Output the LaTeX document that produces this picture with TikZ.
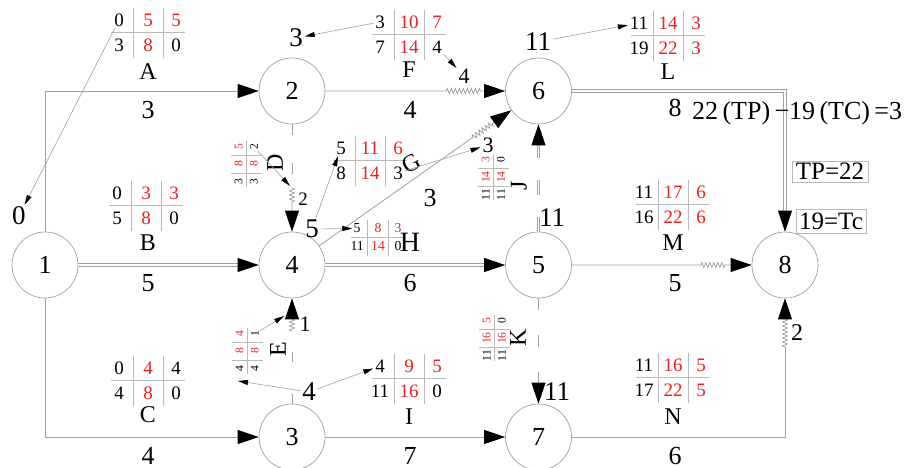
\documentclass[tikz,border=0pt]{standalone}
\usepackage{fontspec}
\setmainfont{Liberation Serif}
\usetikzlibrary{arrows.meta,decorations.pathmorphing,calc}
\definecolor{ln}{RGB}{160,160,160}
\definecolor{gl}{RGB}{185,185,185}
\definecolor{rd}{RGB}{240,30,30}
\newcommand\rd[1]{\textcolor{rd}{#1}}
\newcommand\fs[1]{\fontsize{#1}{#1}\selectfont}
% activity box: (centre) {id} [transform] ES|EF|TF/LS|LF|FF;
\def\abox(#1)#2[#3]#4|#5|#6/#7|#8|#9;{%
  \begin{scope}[shift={(#1)},#3]
    \draw[grid] (-37,0) -- (37,0) (-15,-24) -- (-15,26) (15,-24) -- (15,26);
    \node[num] (#2-1) at (-29,-12) {#4};
    \node[num] (#2-2) at (0,-12) {#5};
    \node[num] (#2-3) at (28,-12) {#6};
    \node[num] (#2-4) at (-29,13) {#7};
    \node[num] (#2-5) at (0,13) {#8};
    \node[num] (#2-6) at (28,13) {#9};
  \end{scope}}
\begin{document}
\begin{tikzpicture}[x=1pt,y=-1pt,
  ev/.style={circle,draw=ln,line width=0.7pt,minimum size=66pt,inner sep=0pt,font=\fs{26}},
  lbl/.style={inner sep=0pt,font=\fs{26}},
  tlbl/.style={inner sep=0pt,outer sep=2pt,font=\fs{27}},
  flt/.style={inner sep=0pt,outer sep=2pt,font=\fs{22}},
  num/.style={inner sep=0pt,outer sep=2pt,font=\fs{19}},
  nm/.style={inner sep=0pt,font=\fs{24}},
  grid/.style={draw=gl,line width=0.7pt},
  act/.style={draw=ln,line width=0.8pt},
  crit/.style={draw=ln,line width=0.8pt,double=white,double distance=1.5pt},
  big/.style={-{Triangle[length=21pt,width=14pt,color=black]}},
  ann/.style={draw=ln,line width=0.6pt,-{Triangle[length=10pt,width=5pt,color=black]}},
  zz/.style 2 args={decorate,decoration={zigzag,segment length=4pt,amplitude=2.5pt,pre length=#1,post length=#2}},
  tbox/.style={draw=gl,line width=0.7pt,inner sep=0pt,font=\fs{25}}
]
\fill[white] (0,0) rectangle (905,467);
\useasboundingbox (0,0) rectangle (905,467);

% events
\node[ev] (n1) at (45,265) {1};
\node[ev] (n2) at (292,91) {2};
\node[ev] (n6) at (538.5,91) {6};
\node[ev] (n4) at (292,265) {4};
\node[ev] (n5) at (538.5,265) {5};
\node[ev] (n8) at (785,265) {8};
\node[ev] (n3) at (292,437) {3};
\node[ev] (n7) at (538.5,437) {7};

% activities
\draw[act,big] (n1) |- (n2);
\draw[act,big] (n1) |- (n3);
\draw[crit,big] (n1) -- (n4);
\draw[act,big,zz={121pt}{24pt}] (n2) -- (n6);
\draw[crit,big] (n6) -| (n8);
\draw[crit,big] (n4) -- (n5);
\draw[act,big,zz={129pt}{25pt}] (n5) -- (n8);
\draw[act,big] (n3) -- (n7);
\coordinate (k78) at (785,347);
\draw[act] (n7) -| (k78);
\draw[act,big,zz={0pt}{20pt}] (k78) -- (n8);
\draw[act,big,zz={188pt}{23pt}] (n4) -- (n6);

% dummy activities
\coordinate (k24) at (292,188);
\draw[act,dash pattern=on 11pt off 28pt] (n2) -- (k24);
\draw[act,big,zz={0pt}{28pt}] (k24) -- (n4);
\coordinate (k34) at (292,331);
\draw[act,dash pattern=on 10pt off 32pt] (n3) -- (k34);
\draw[act,big,zz={0pt}{19pt}] (k34) -- (n4);
\draw[crit,big,dash pattern=on 15pt off 22pt] (n5) -- (n6);
\draw[act,big,dash pattern=on 12pt off 25pt] (n5) -- (n7);

% durations
\node[lbl] (d12) at (148,110) {3};
\node[lbl] (d26) at (410,110) {4};
\node[lbl] (d68) at (675,108) {8};
\node[lbl] (d14) at (148,283) {5};
\node[lbl] (d45) at (410,283) {6};
\node[lbl] (d58) at (675,283) {5};
\node[lbl] (d13) at (148,456) {4};
\node[lbl] (d37) at (410,456) {7};
\node[lbl] (d78) at (675,456) {6};
\node[lbl] (d46) at (430,198) {3};

% event times
\node[tlbl] (e1) at (19,216) {0};
\node[tlbl] (e2) at (296,38) {3};
\node[tlbl] (e6) at (538,42) {11};
\node[tlbl] (e4) at (312,229) {5};
\node[tlbl] (e3) at (309,392) {4};
\node[tlbl] (e5) at (552,218) {11};
\node[tlbl] (e7) at (557,392) {11};

% free floats on the wavy parts
\node[flt,font=\fs{19}] (f24) at (303,199) {2};
\node[flt] (f26) at (464,76) {4};
\node[flt] (f46) at (488,145) {3};
\node[flt] (f34) at (305,324) {1};
\node[flt,font=\fs{24}] (f78) at (797,333) {2};

% activity boxes
\abox(148,32){A}[]0|\rd{5}|\rd{5}/3|\rd{8}|0;
\abox(409,34){F}[]3|\rd{10}|\rd{7}/7|\rd{14}|4;
\abox(668,35){L}[]11|\rd{14}|\rd{3}/19|\rd{22}|\rd{3};
\abox(146,205){B}[]0|\rd{3}|\rd{3}/5|\rd{8}|0;
\abox(370,160){G}[]5|\rd{11}|\rd{6}/8|\rd{14}|3;
\abox(378,237){H}[scale=0.72,transform shape]5|\rd{8}|\rd{3}/11|\rd{14}|0;
\abox(673,204){M}[]11|\rd{17}|\rd{6}/16|\rd{22}|\rd{6};
\abox(673,377){N}[]11|\rd{16}|\rd{5}/17|\rd{22}|\rd{5};
\abox(148,380){C}[]0|\rd{4}|4/4|\rd{8}|0;
\abox(409,378){I}[]4|\rd{9}|\rd{5}/11|\rd{16}|0;
\abox(246,164){D}[rotate=90,scale=0.61,transform shape]3|\rd{8}|\rd{5}/3|\rd{8}|2;
\abox(247,351){E}[rotate=90,scale=0.61,transform shape]4|\rd{8}|\rd{4}/4|\rd{8}|1;
\abox(493,177){J}[rotate=90,scale=0.61,transform shape]11|\rd{14}|\rd{3}/11|\rd{14}|0;
\abox(494,338){K}[rotate=90,scale=0.61,transform shape]11|\rd{16}|\rd{5}/11|\rd{16}|0;

% activity names
\node[nm] (tA) at (148,72) {A};
\node[nm] (tF) at (409,70) {F};
\node[nm] (tL) at (668,72) {L};
\node[nm] (tB) at (148,243) {B};
\node[nm,rotate=30] (tG) at (411,163) {G};
\node[nm,font=\fs{28}] (tH) at (410,242) {H};
\node[nm] (tM) at (673,243) {M};
\node[nm] (tN) at (673,417) {N};
\node[nm] (tC) at (148,415) {C};
\node[nm] (tI) at (409,417) {I};
\node[nm,rotate=90] (tD) at (275,163) {D};
\node[nm,rotate=90] (tE) at (278,349) {E};
\node[nm,rotate=90] (tJ) at (519,186) {J};
\node[nm,rotate=90] (tK) at (518,338) {K};

% pointers from the boxes
\coordinate (k24t) at (290,186);
\coordinate (k34t) at (284,316);
\coordinate (kE) at (238,381);
\draw[ann] (A-1) -- (e1);
\draw[ann] (F-1) -- (e2);
\draw[ann] (F-6) -- (f26);
\draw[ann] (e6) -- (L-1);
\draw[ann] (e4) -- (G-1);
\draw[ann] (e4) -- (H-1);
\draw[ann] (G-6) -- (f46);
\draw[ann] (D-6) -- (k24t);
\draw[ann] (E-6) -- (k34t);
\draw[ann] (e3) -- (kE);
\draw[ann] (e3) -- (I-1);

% duration check
\node[lbl,anchor=west] (tpc) at (692,113) {22\,(TP)\,−19\,(TC)\,=3};
\node[tbox,minimum width=76pt,minimum height=21pt] (tp) at (830,171.5) {TP=22};
\node[tbox,minimum width=70pt,minimum height=24pt] (tc) at (831,221) {19=Tc};
\end{tikzpicture}
\end{document}
